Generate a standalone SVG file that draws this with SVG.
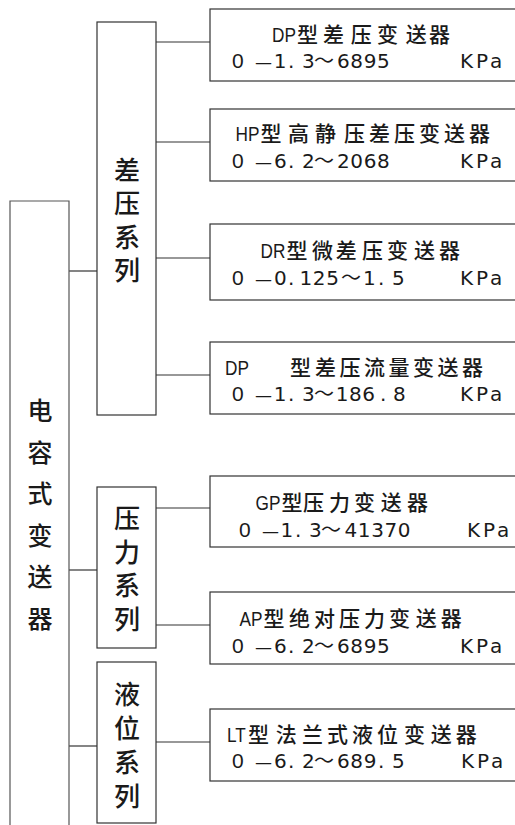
<svg xmlns="http://www.w3.org/2000/svg" width="515" height="825" viewBox="0 0 515 825">
<style>
.bx{fill:#fff;stroke:#333;stroke-width:1.2}
.ln{fill:none;stroke:#333;stroke-width:1.2}
.t{font-family:"Noto Sans CJK SC",sans-serif;font-size:21px;font-weight:500;fill:#1a1a1a}
.L{font-family:"Liberation Sans",sans-serif;font-size:21px;fill:#1a1a1a}
.v{font-family:"DejaVu Sans","Liberation Sans","Noto Sans CJK SC",sans-serif;font-size:20px;fill:#1a1a1a}
.o{font-family:"Liberation Sans",sans-serif;font-size:21px}
.n{letter-spacing:0.6px}
.d{font-size:17px}
.w{font-family:"Noto Sans CJK SC",sans-serif;font-size:20px}
.k{font-family:"DejaVu Sans","Liberation Sans",sans-serif;font-size:20px;fill:#1a1a1a;letter-spacing:2.9px}
.z{font-family:"Noto Sans CJK SC",sans-serif;font-size:26px;font-weight:500;fill:#1a1a1a;text-anchor:middle}
.zl{font-family:"Noto Sans CJK SC",sans-serif;font-size:25px;font-weight:500;fill:#1a1a1a;text-anchor:middle}
</style>
<rect width="515" height="825" fill="#fff"/>
<g id="connectors">
<line class="ln" x1="69" y1="271" x2="97" y2="271"/>
<line class="ln" x1="69" y1="570" x2="97" y2="570"/>
<line class="ln" x1="69" y1="746" x2="97" y2="746"/>
<line class="ln" x1="156" y1="42" x2="210" y2="42"/>
<line class="ln" x1="156" y1="142" x2="210" y2="142"/>
<line class="ln" x1="156" y1="258" x2="210" y2="258"/>
<line class="ln" x1="156" y1="375" x2="210" y2="375"/>
<line class="ln" x1="156" y1="508" x2="210" y2="508"/>
<line class="ln" x1="156" y1="625" x2="210" y2="625"/>
<line class="ln" x1="156" y1="742" x2="210" y2="742"/>
</g>
<g id="root">
<path class="ln" d="M10,826 V201 H69 V826" style="stroke:#555"/>
<text class="zl"><tspan x="40" y="420">电</tspan><tspan x="40" y="461.5">容</tspan><tspan x="40" y="503">式</tspan><tspan x="40" y="544.5">变</tspan><tspan x="40" y="586">送</tspan><tspan x="40" y="627.5">器</tspan></text>
</g>
<g id="dp-series">
<rect class="bx" x="97" y="22" width="59" height="393"/>
<text class="z"><tspan x="127" y="179.5">差</tspan><tspan x="127" y="213">压</tspan><tspan x="127" y="246.5">系</tspan><tspan x="127" y="280">列</tspan></text>
</g>
<g id="p-series">
<rect class="bx" x="97" y="487" width="59" height="161"/>
<text class="z"><tspan x="127" y="528">压</tspan><tspan x="127" y="561.5">力</tspan><tspan x="127" y="595">系</tspan><tspan x="127" y="628.5">列</tspan></text>
</g>
<g id="l-series">
<rect class="bx" x="97" y="662" width="59" height="161"/>
<text class="z"><tspan x="127" y="703.5">液</tspan><tspan x="127" y="737.5">位</tspan><tspan x="127" y="771.5">系</tspan><tspan x="127" y="805.5">列</tspan></text>
</g>
<g id="dp">
<rect class="bx" x="210" y="9" width="320" height="72"/>
<text class="L" transform="translate(272,42) scale(0.82,1)">DP</text>
<text class="t" y="42"><tspan x="297">型</tspan><tspan x="323">差</tspan><tspan x="350.7">压</tspan><tspan x="377">变</tspan><tspan x="405.7">送</tspan><tspan x="429">器</tspan></text>
<text class="v" y="68"><tspan class="o" x="232">0</tspan><tspan x="255" class="d">—</tspan><tspan x="273.7">1</tspan><tspan x="288">.</tspan><tspan x="302">3</tspan><tspan x="314" class="w">～</tspan><tspan x="337" class="n">6895</tspan></text>
<text class="k" x="460" y="68">KPa</text>
</g>
<g id="hp">
<rect class="bx" x="210" y="109" width="320" height="72"/>
<text class="L" transform="translate(235.5,141) scale(0.82,1)">HP</text>
<text class="t" y="141"><tspan x="260.5">型</tspan><tspan x="288">高</tspan><tspan x="315">静</tspan><tspan x="344">压</tspan><tspan x="369">差</tspan><tspan x="394">压</tspan><tspan x="419">变</tspan><tspan x="444">送</tspan><tspan x="469">器</tspan></text>
<text class="v" y="168"><tspan class="o" x="232">0</tspan><tspan x="255" class="d">—</tspan><tspan x="274">6</tspan><tspan x="288">.</tspan><tspan x="302">2</tspan><tspan x="314" class="w">～</tspan><tspan x="337" class="n">2068</tspan></text>
<text class="k" x="460" y="168">KPa</text>
</g>
<g id="dr">
<rect class="bx" x="210" y="224" width="320" height="76"/>
<text class="L" transform="translate(260.5,258) scale(0.82,1)">DR</text>
<text class="t" y="258"><tspan x="286.5">型</tspan><tspan x="312">微</tspan><tspan x="335.7">差</tspan><tspan x="362">压</tspan><tspan x="387">变</tspan><tspan x="414">送</tspan><tspan x="439">器</tspan></text>
<text class="v" y="285"><tspan class="o" x="232">0</tspan><tspan x="255" class="d">—</tspan><tspan x="274">0</tspan><tspan x="288">.</tspan><tspan x="299.5" class="n">125</tspan><tspan x="341" class="w">～</tspan><tspan x="363">1</tspan><tspan x="378">.</tspan><tspan x="392">5</tspan></text>
<text class="k" x="460" y="285">KPa</text>
</g>
<g id="dpf">
<rect class="bx" x="210" y="342" width="320" height="72"/>
<text class="L" transform="translate(225,375) scale(0.82,1)">DP</text>
<text class="t" y="375"><tspan x="290">型</tspan><tspan x="315">差</tspan><tspan x="339.5">压</tspan><tspan x="364">流</tspan><tspan x="388.5">量</tspan><tspan x="413">变</tspan><tspan x="437.5">送</tspan><tspan x="462">器</tspan></text>
<text class="v" y="401"><tspan class="o" x="232">0</tspan><tspan x="255" class="d">—</tspan><tspan x="273.7">1</tspan><tspan x="288">.</tspan><tspan x="302">3</tspan><tspan x="314" class="w">～</tspan><tspan x="335.7" class="n">186</tspan><tspan x="380">.</tspan><tspan x="393">8</tspan></text>
<text class="k" x="460" y="401">KPa</text>
</g>
<g id="gp">
<rect class="bx" x="210" y="476" width="320" height="71"/>
<text class="L" transform="translate(255.5,510) scale(0.82,1)">GP</text>
<text class="t" y="510"><tspan x="281.5">型</tspan><tspan x="303">压</tspan><tspan x="329">力</tspan><tspan x="354">变</tspan><tspan x="380.7">送</tspan><tspan x="407">器</tspan></text>
<text class="v" y="537"><tspan class="o" x="239">0</tspan><tspan x="262" class="d">—</tspan><tspan x="280.5">1</tspan><tspan x="295">.</tspan><tspan x="309">3</tspan><tspan x="321" class="w">～</tspan><tspan x="344.5" class="n">41370</tspan></text>
<text class="k" x="467" y="537">KPa</text>
</g>
<g id="ap">
<rect class="bx" x="210" y="592" width="320" height="72"/>
<text class="L" transform="translate(239.5,625.5) scale(0.82,1)">AP</text>
<text class="t" y="625.5"><tspan x="263.5">型</tspan><tspan x="289">绝</tspan><tspan x="314">对</tspan><tspan x="339">压</tspan><tspan x="364">力</tspan><tspan x="389">变</tspan><tspan x="415.7">送</tspan><tspan x="440.7">器</tspan></text>
<text class="v" y="652.5"><tspan class="o" x="232">0</tspan><tspan x="255" class="d">—</tspan><tspan x="274">6</tspan><tspan x="288">.</tspan><tspan x="302">2</tspan><tspan x="314" class="w">～</tspan><tspan x="337" class="n">6895</tspan></text>
<text class="k" x="460" y="652.5">KPa</text>
</g>
<g id="lt">
<rect class="bx" x="210" y="709" width="320" height="72"/>
<text class="L" transform="translate(227,742) scale(0.82,1)">LT</text>
<text class="t" y="742"><tspan x="248">型</tspan><tspan x="275.7">法</tspan><tspan x="302">兰</tspan><tspan x="327">式</tspan><tspan x="352">液</tspan><tspan x="377">位</tspan><tspan x="404">变</tspan><tspan x="430.7">送</tspan><tspan x="455.7">器</tspan></text>
<text class="v" y="768"><tspan class="o" x="232">0</tspan><tspan x="255" class="d">—</tspan><tspan x="274">6</tspan><tspan x="288">.</tspan><tspan x="302">2</tspan><tspan x="314" class="w">～</tspan><tspan x="337" class="n">689</tspan><tspan x="378">.</tspan><tspan x="392">5</tspan></text>
<text class="k" x="461" y="768">KPa</text>
</g>
</svg>
